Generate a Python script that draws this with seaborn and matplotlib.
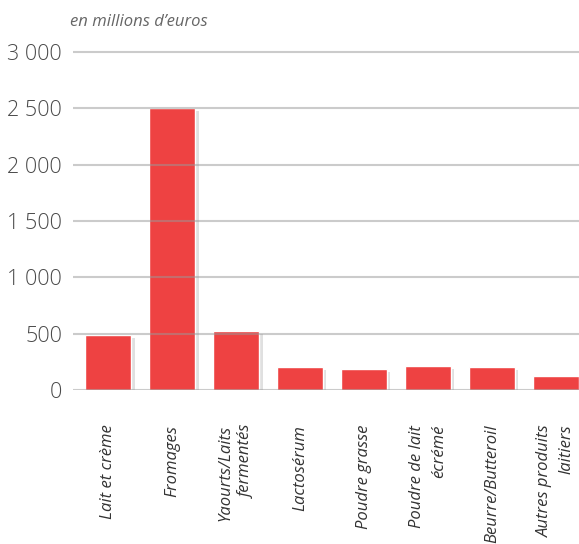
import matplotlib
matplotlib.use("Agg")
import matplotlib.pyplot as plt
import matplotlib.patheffects as pe
import seaborn as sns
import pandas as pd

# données (en millions d'euros)
categories = ["Lait et crème", "Fromages", "Yaourts/Laits\nfermentés", "Lactosérum",
              "Poudre grasse", "Poudre de lait\nécrémé", "Beurre/Butteroil",
              "Autres produits\nlaitiers"]
valeurs = [490, 2505, 522, 204, 186, 212, 204, 124]
yticks = [0, 500, 1000, 1500, 2000, 2500, 3000]
ytick_labels = ["0", "500", "1 000", "1 500", "2 000", "2 500", "3 000"]

df = pd.DataFrame({"categorie": categories, "valeur": valeurs})

sns.set_style("white")
plt.rcParams["font.family"] = ["Open Sans", "DejaVu Sans"]

fig = plt.figure(figsize=(5.79, 5.44), dpi=100)
ax = fig.add_axes([73 / 579, 1 - 390 / 544, 1 - 73 / 579, (390 - 46.4) / 544])

sns.barplot(data=df, x="categorie", y="valeur", color="#EE4242", saturation=1,
            width=0.72, ax=ax, zorder=2)
for p in ax.patches:
    p.set_path_effects([pe.SimplePatchShadow(offset=(2.5, -2), shadow_rgbFace="#999999", alpha=0.3),
                        pe.Normal()])

ax.set_xlim(-0.547, 7.36)
ax.set_ylim(0, 3050)
ax.set_yticks(yticks)
ax.set_yticklabels(ytick_labels, fontsize=15.5, color="#4a4a4a", fontweight="light")
ax.yaxis.grid(True, color="#999999", alpha=0.5, linewidth=1.5, zorder=5)
ax.set_axisbelow(False)
ax.tick_params(axis="y", length=0, pad=8)
ax.tick_params(axis="x", length=0, pad=25)
ax.set_xticks(range(len(categories)))
ax.set_xticklabels(categories, rotation=90, style="italic", fontsize=12,
                   color="#333333", ha="center", va="top", multialignment="right",
                   linespacing=1.45)
ax.set_xlabel("")
ax.set_ylabel("")
for s in ax.spines.values():
    s.set_visible(False)

fig.text(70 / 579, 1 - 22 / 544, "en millions d\u2019euros", style="italic",
         fontsize=12, color="#666666", ha="left", va="center")

fig.savefig("out.png", dpi=100)
